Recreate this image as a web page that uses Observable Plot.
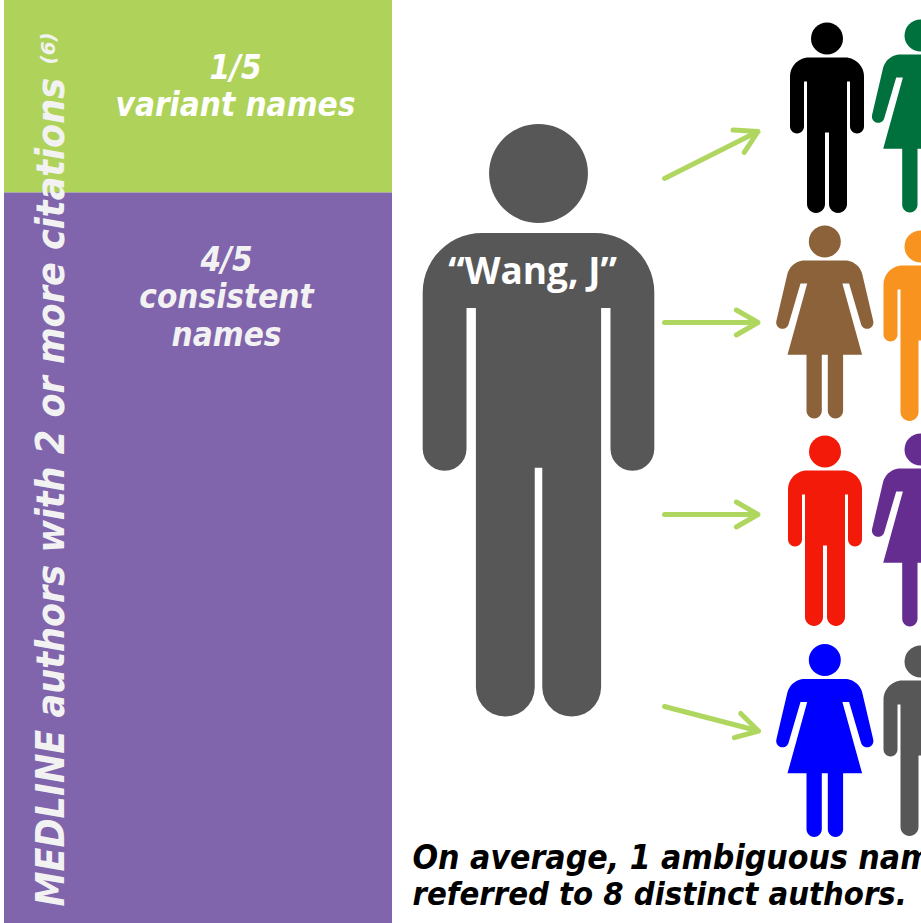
<!DOCTYPE html>
<html>
<head>
<meta charset="utf-8">
<script src="https://cdn.jsdelivr.net/npm/d3@7"></script>
<script src="https://cdn.jsdelivr.net/npm/@observablehq/plot@0.6"></script>
<style>
html,body{margin:0;padding:0;background:#fff;overflow:hidden}
svg{display:block}
</style>
</head>
<body>
<div id="chart"></div>
<script>
// Panels
const panels = [
  {x1: 4, x2: 392, y1: 0, y2: 192.5, color: "#AFD35A"},
  {x1: 4, x2: 392, y1: 192.5, y2: 923, color: "#8064AC"}
];
// Rounded part of an outline: centre, radius, start and end angle in degrees
const arc = (cx, cy, r, a0, a1, n = 14) => d3.range(n + 1).map(i => {
  const a = (a0 + (a1 - a0) * i / n) * Math.PI / 180;
  return [cx + r * Math.cos(a), cy + r * Math.sin(a)];
});
// Right half of each pictogram outline, [dx, dy] from the head centre
const maleHalf = (gap, foot) => [
  [0, 19], ...arc(18, 38, 19, -90, 0), ...arc(30, 88, 7, 0, 180),
  [23, 43], [20, 43], ...arc((20 + gap) / 2, foot - (20 - gap) / 2, (20 - gap) / 2, 0, 180), [gap, 94], [0, 94]
];
const femaleHalf = [
  [0, 19], ...arc(20, 37, 18, -90, -13), ...arc(42.3, 81, 6.3, -13, 167),
  [24.3, 42], [17.6, 42], [37.3, 113.3], [18.3, 113.3],
  ...arc(10.65, 169.3, 7.65, 0, 180), [3, 113.3], [0, 113.3]
];
// People: head centre, size, colour
const people = [
  {id: "ambiguous", kind: "male", cx: 538, cy: 173, s: 3.13, gap: 1.2, foot: 173.5, color: "#575757"},
  {id: "a", kind: "male", cx: 826.5, cy: 38, s: 1, gap: 2, foot: 174.5, color: "#000000"},
  {id: "b", kind: "female", cx: 920, cy: 35, s: 1, color: "#00703C"},
  {id: "c", kind: "female", cx: 824.3, cy: 241, s: 1, color: "#8B6239"},
  {id: "d", kind: "male", cx: 920, cy: 246, s: 1, gap: 2, foot: 174.5, color: "#F7931E"},
  {id: "e", kind: "male", cx: 824.5, cy: 451, s: 1, gap: 2, foot: 174.5, color: "#F41A0A"},
  {id: "f", kind: "female", cx: 920, cy: 449, s: 1, color: "#662D91"},
  {id: "g", kind: "female", cx: 824.3, cy: 659.5, s: 1, color: "#0000FF"},
  {id: "h", kind: "male", cx: 920, cy: 661, s: 1, gap: 2, foot: 174.5, color: "#575757"}
];
// Arrows
const arrows = [
  {x1: 664, y1: 178, x2: 757.5, y2: 131},
  {x1: 664, y1: 322, x2: 757.5, y2: 322},
  {x1: 664, y1: 514, x2: 757.5, y2: 514},
  {x1: 664, y1: 706, x2: 758, y2: 730.5}
];
// Labels
const panelLabels = [
  {text: "1/5", x: 235, y: 68, color: "#FFFFFF"},
  {text: "variant names", x: 235, y: 105, color: "#FFFFFF"},
  {text: "4/5", x: 226, y: 260, color: "#F2F2F2"},
  {text: "consistent", x: 226, y: 297, color: "#F2F2F2"},
  {text: "names", x: 226, y: 335, color: "#F2F2F2"}
];
const sideLabel = [{text: "MEDLINE authors with 2 or more citations", x: 51, y: 906}];
const sideRef = [{text: "(6)", x: 50, y: 64}];
const centreLabel = [{text: "“Wang, J”", x: 532, y: 272}];
const footerFirst = [{text: "On average, 1 ambiguous name", x: 412, y: 858}];
const footerSecond = [{text: "referred to 8 distinct authors.", x: 412, y: 894}];

const outlinePoints = people.flatMap(p => {
  const right = p.kind === "male" ? maleHalf(p.gap, p.foot) : femaleHalf;
  const left = right.slice().reverse().map(([dx, dy]) => [-dx, dy]);
  return right.concat(left).map(([dx, dy]) => ({
    id: p.id, color: p.color, x: p.cx + dx * p.s, y: p.cy + dy * p.s
  }));
});
const heads = people.map(p => ({x: p.cx, y: p.cy, r: 16 * (p.s > 1 ? 3.09 : 1), color: p.color}));

const font = {fontFamily: "DejaVu Sans Condensed, DejaVu Sans", fontWeight: "bold", fontStyle: "italic"};

const chart = Plot.plot({
  width: 921,
  height: 923,
  margin: 0,
  x: {domain: [0, 921], axis: null},
  y: {domain: [0, 923], reverse: true, axis: null},
  color: {type: "identity"},
  r: {type: "identity"},
  style: {background: "#fff", overflow: "hidden"},
  marks: [
    Plot.rect(panels, {x1: "x1", x2: "x2", y1: "y1", y2: "y2", fill: "color"}),
    Plot.line(outlinePoints, {x: "x", y: "y", z: "id", fill: "color", stroke: null, curve: "linear-closed"}),
    Plot.dot(heads, {x: "x", y: "y", r: "r", fill: "color", stroke: null}),
    Plot.arrow(arrows, {x1: "x1", y1: "y1", x2: "x2", y2: "y2", stroke: "#AFD65F", strokeWidth: 5, headLength: 7.5, headAngle: 60, inset: 0}),
    Plot.text(panelLabels, {x: "x", y: "y", text: "text", fill: "color", fontSize: 33, ...font}),
    Plot.text(sideLabel, {x: "x", y: "y", text: "text", fill: "#F2F2F2", fontSize: 39, rotate: -90, textAnchor: "start", ...font}),
    Plot.text(sideRef, {x: "x", y: "y", text: "text", fill: "#F2F2F2", fontSize: 20, rotate: -90, textAnchor: "start", dx: -2, fontFamily: "DejaVu Sans", fontStyle: "italic", fontWeight: "bold"}),
    Plot.text(centreLabel, {x: "x", y: "y", text: "text", fill: "#FFFFFF", fontSize: 37, fontFamily: "Open Sans", fontWeight: "bold"}),
    Plot.text(footerFirst, {x: "x", y: "y", text: "text", fill: "#000", fontSize: 33.5, textAnchor: "start", ...font}),
    Plot.text(footerSecond, {x: "x", y: "y", text: "text", fill: "#000", fontSize: 32.5, textAnchor: "start", ...font})
  ]
});
document.getElementById("chart").appendChild(chart);
</script>
</body>
</html>
